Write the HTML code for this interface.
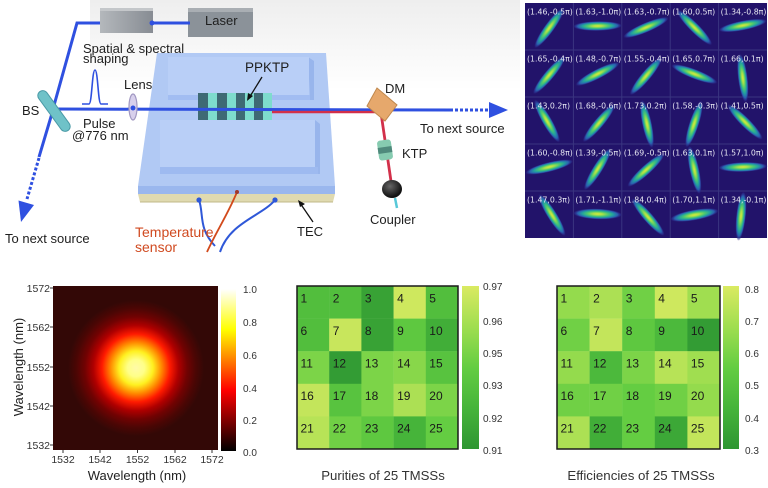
<!DOCTYPE html>
<html><head><meta charset="utf-8"><style>html,body{margin:0;padding:0;background:#fff}svg{display:block}</style></head><body>
<svg width="768" height="488" viewBox="0 0 768 488" xmlns="http://www.w3.org/2000/svg" font-family="'Liberation Sans', Arial, sans-serif">
<defs>
<radialGradient id="vir" cx="0.5" cy="0.5" r="0.5">
<stop offset="0" stop-color="#d4ea3a"/>
<stop offset="0.2" stop-color="#a6e04a"/>
<stop offset="0.42" stop-color="#4cc870"/>
<stop offset="0.62" stop-color="#22a0a0"/>
<stop offset="0.8" stop-color="#2a60b0"/>
<stop offset="0.92" stop-color="#2c3090" stop-opacity="0.6"/>
<stop offset="1" stop-color="#22136a" stop-opacity="0"/>
</radialGradient>
<radialGradient id="hotblob" gradientUnits="userSpaceOnUse" cx="136" cy="368" r="68">
<stop offset="0" stop-color="#fffaa8"/>
<stop offset="0.125" stop-color="#ffff88"/>
<stop offset="0.25" stop-color="#fff020"/>
<stop offset="0.375" stop-color="#ff8a00"/>
<stop offset="0.5" stop-color="#ff1a00"/>
<stop offset="0.625" stop-color="#b00000"/>
<stop offset="0.75" stop-color="#720202"/>
<stop offset="0.875" stop-color="#4c0604"/>
<stop offset="1" stop-color="#330806"/>
</radialGradient>
<linearGradient id="hotbar" x1="0" y1="1" x2="0" y2="0">
<stop offset="0" stop-color="#000"/>
<stop offset="0.375" stop-color="#ff0000"/>
<stop offset="0.75" stop-color="#ffff00"/>
<stop offset="1" stop-color="#ffffff"/>
</linearGradient>
<linearGradient id="grbar" x1="0" y1="1" x2="0" y2="0">
<stop offset="0" stop-color="#2e9632"/>
<stop offset="0.25" stop-color="#46b43a"/>
<stop offset="0.5" stop-color="#64cd42"/>
<stop offset="0.75" stop-color="#a0de50"/>
<stop offset="1" stop-color="#daea62"/>
</linearGradient>
<linearGradient id="gbox" x1="0" y1="0" x2="1" y2="0">
<stop offset="0" stop-color="#b4b8bc"/>
<stop offset="1" stop-color="#878c93"/>
</linearGradient>
<linearGradient id="bgtop" x1="0" y1="0" x2="0" y2="1">
<stop offset="0" stop-color="#eeeeee"/>
<stop offset="1" stop-color="#ffffff"/>
</linearGradient>
<radialGradient id="coup" cx="0.4" cy="0.35" r="0.6">
<stop offset="0" stop-color="#666"/>
<stop offset="1" stop-color="#111"/>
</radialGradient>
</defs>

<rect width="768" height="488" fill="#fff"/>
<rect x="90" y="0" width="430" height="90" fill="url(#bgtop)"/>

<!-- ============ SCHEMATIC ============ -->
<rect x="100" y="8" width="53" height="25" fill="url(#gbox)"/>
<rect x="100" y="8" width="53" height="3" fill="#c4c7ca"/>
<rect x="188" y="8" width="65" height="29" fill="#8b9299"/>
<rect x="188" y="8" width="65" height="4" fill="#a9aeb3"/>
<text x="205" y="25" font-size="13" fill="#1e1e1e">Laser</text>

<polygon points="157,53 326,53 335,186 138,186" fill="#b1c9f4"/>
<polygon points="138,186 335,186 335,194 138,194" fill="#9ab7ee"/>
<polygon points="138,194 335,194 333,202 140,202" fill="#e0dab0"/>
<line x1="140" y1="202" x2="333" y2="202" stroke="#c0b888" stroke-width="1"/>
<polygon points="308,57 314,61 314,100 310,100" fill="#98b5ec"/>
<rect x="168" y="57" width="141" height="38" fill="#b9cff7"/>
<rect x="168" y="95" width="142" height="5" fill="#a2bdf2"/>
<polygon points="315,120 320,124 320,174 315,174" fill="#98b5ec"/>
<rect x="160" y="120" width="155" height="47" fill="#b9cff7"/>
<rect x="160" y="167" width="158" height="7" fill="#9ebaf0"/>

<rect x="198" y="93" width="74" height="27" fill="#7edccd"/>
<rect x="198" y="93" width="10" height="27" fill="#3e6a74"/>
<rect x="217" y="93" width="10" height="27" fill="#3e6a74"/>
<rect x="236" y="93" width="9" height="27" fill="#3e6a74"/>
<rect x="254" y="93" width="9" height="27" fill="#3e6a74"/>

<polyline points="100,23 77,23 53,109" fill="none" stroke="#2f50e0" stroke-width="3"/>
<line x1="153" y1="23" x2="190" y2="23" stroke="#2f50e0" stroke-width="3"/>
<circle cx="152" cy="23" r="2.5" fill="#2f50e0"/>
<line x1="53" y1="109" x2="453" y2="110" stroke="#2f50e0" stroke-width="3"/>
<line x1="455" y1="110" x2="490" y2="110" stroke="#2f50e0" stroke-width="3" stroke-dasharray="3,2"/>
<polygon points="489,102 508,110 489,118" fill="#2f50e0"/>
<line x1="53" y1="110" x2="39" y2="157" stroke="#2f50e0" stroke-width="3"/>
<line x1="39" y1="158" x2="27" y2="199" stroke="#2f50e0" stroke-width="3" stroke-dasharray="3,2"/>
<polygon points="34,205 21,222 18.5,200.5" fill="#2f50e0"/>

<line x1="272" y1="112" x2="382" y2="112" stroke="#d2304a" stroke-width="2.5"/>
<line x1="273" y1="109.5" x2="453" y2="110" stroke="#2f50e0" stroke-width="2.2"/>
<line x1="381" y1="113" x2="392" y2="188" stroke="#d2304a" stroke-width="2.8"/>

<g transform="translate(54,111) rotate(54)">
<rect x="-24" y="-5" width="48" height="10" rx="5" fill="#6fc2c8" stroke="#4a9aa6" stroke-width="1"/>
</g>
<ellipse cx="133" cy="107" rx="4" ry="13" fill="#d8d0ec" stroke="#a198c2" stroke-width="1.2"/>
<circle cx="133" cy="108" r="2.5" fill="#2f50e0"/>
<path d="M82,104 L89,104 C92,104 92,70 95,70 C98,70 98,104 101,104 L108,104" fill="none" stroke="#2f50e0" stroke-width="1.6"/>
<polygon points="367,106 377,88 397,105 385,121" fill="#e6a86c" stroke="#c0884c" stroke-width="1"/>
<g transform="translate(385,150) rotate(-8)">
<rect x="-7" y="-10" width="14" height="20" rx="3" fill="#86cbb0"/>
<rect x="-7" y="-3" width="14" height="6" fill="#4f8a7c"/>
</g>
<ellipse cx="392" cy="189" rx="10" ry="9" fill="url(#coup)"/>
<line x1="395" y1="198" x2="397" y2="208" stroke="#58c8d8" stroke-width="2.5"/>

<path d="M199,200 C204,214 198,228 215,246" fill="none" stroke="#2f58d8" stroke-width="2"/>
<circle cx="199" cy="200" r="2.6" fill="#2f58d8"/>
<path d="M275,200 C262,216 230,222 220,252" fill="none" stroke="#2f58d8" stroke-width="2"/>
<circle cx="275" cy="200" r="2.6" fill="#2f58d8"/>
<path d="M237,192 C228,214 216,232 207,252" fill="none" stroke="#d24a1c" stroke-width="1.8"/>
<circle cx="237" cy="192" r="2" fill="#a03a2a"/>

<line x1="262" y1="77" x2="249" y2="98" stroke="#111" stroke-width="1.3"/>
<polygon points="247,101 248,93 253,96" fill="#111"/>
<line x1="313" y1="222" x2="300" y2="203" stroke="#111" stroke-width="1.3"/>
<polygon points="298,200 305,204 300,207" fill="#111"/>

<g font-size="13" fill="#1e1e1e">
<text x="83" y="53">Spatial &amp; spectral</text>
<text x="83" y="63">shaping</text>
<text x="22" y="115">BS</text>
<text x="124" y="89">Lens</text>
<text x="83" y="128">Pulse</text>
<text x="72" y="140">@776 nm</text>
<text x="245" y="72" font-size="13.5">PPKTP</text>
<text x="385" y="93">DM</text>
<text x="420" y="133">To next source</text>
<text x="402" y="158">KTP</text>
<text x="370" y="224">Coupler</text>
<text x="297" y="236">TEC</text>
<text x="5" y="243">To next source</text>
<text x="135" y="237" font-size="14" fill="#d04a20">Temperature</text>
<text x="135" y="252" font-size="14" fill="#d04a20">sensor</text>
</g>

<!-- ============ TOP-RIGHT GRID ============ -->
<rect x="525" y="3" width="242" height="235" fill="#22136a"/>
<g stroke="#3a3580" stroke-width="1">
<line x1="573.4" y1="3" x2="573.4" y2="238"/>
<line x1="621.8" y1="3" x2="621.8" y2="238"/>
<line x1="670.2" y1="3" x2="670.2" y2="238"/>
<line x1="718.6" y1="3" x2="718.6" y2="238"/>
<line x1="525" y1="50" x2="767" y2="50"/>
<line x1="525" y1="97" x2="767" y2="97"/>
<line x1="525" y1="144" x2="767" y2="144"/>
<line x1="525" y1="191" x2="767" y2="191"/>
</g>
<g fill="url(#vir)">
<ellipse cx="0" cy="0" rx="25" ry="5" transform="translate(549.2,28) rotate(-54)"/>
<ellipse cx="0" cy="0" rx="25" ry="5" transform="translate(597.6,26) rotate(-1)"/>
<ellipse cx="0" cy="0" rx="25" ry="5" transform="translate(646,27.5) rotate(-23)"/>
<ellipse cx="0" cy="0" rx="25" ry="5" transform="translate(694.4,27.5) rotate(45)"/>
<ellipse cx="0" cy="0" rx="25" ry="5" transform="translate(742.8,25.5) rotate(-11)"/>

<ellipse cx="0" cy="0" rx="25" ry="5" transform="translate(549.2,75) rotate(-50)"/>
<ellipse cx="0" cy="0" rx="25" ry="5" transform="translate(597.6,74) rotate(-27)"/>
<ellipse cx="0" cy="0" rx="25" ry="5" transform="translate(646,76) rotate(-50)"/>
<ellipse cx="0" cy="0" rx="25" ry="5" transform="translate(694.4,74) rotate(21)"/>
<ellipse cx="0" cy="0" rx="25" ry="5" transform="translate(742.8,78) rotate(83)"/>

<ellipse cx="0" cy="0" rx="25" ry="5" transform="translate(547,121) rotate(60)"/>
<ellipse cx="0" cy="0" rx="25" ry="5" transform="translate(599,123) rotate(-50)"/>
<ellipse cx="0" cy="0" rx="25" ry="5" transform="translate(647,124) rotate(78)"/>
<ellipse cx="0" cy="0" rx="25" ry="5" transform="translate(694,124) rotate(-72)"/>
<ellipse cx="0" cy="0" rx="25" ry="5" transform="translate(745,122) rotate(45)"/>

<ellipse cx="0" cy="0" rx="25" ry="5" transform="translate(549.2,167) rotate(-14)"/>
<ellipse cx="0" cy="0" rx="25" ry="5" transform="translate(597.6,169) rotate(-58)"/>
<ellipse cx="0" cy="0" rx="25" ry="5" transform="translate(646,170) rotate(-42)"/>
<ellipse cx="0" cy="0" rx="25" ry="5" transform="translate(694.4,170) rotate(78)"/>
<ellipse cx="0" cy="0" rx="25" ry="5" transform="translate(742.8,167) rotate(-2)"/>

<ellipse cx="0" cy="0" rx="25" ry="5" transform="translate(552,215) rotate(58)"/>
<ellipse cx="0" cy="0" rx="25" ry="5.5" transform="translate(597.6,214) rotate(2)"/>
<ellipse cx="0" cy="0" rx="25" ry="5" transform="translate(648,217) rotate(49)"/>
<ellipse cx="0" cy="0" rx="25" ry="5.5" transform="translate(694.4,215) rotate(-10)"/>
<ellipse cx="0" cy="0" rx="25" ry="5" transform="translate(741,216) rotate(-84)"/>
</g>
<g font-family="'DejaVu Sans', sans-serif" font-size="7.8" fill="#e6e6f2">
<text x="527" y="14.5">(1.46,-0.5π)</text>
<text x="575.4" y="14.5">(1.63,-1.0π)</text>
<text x="623.8" y="14.5">(1.63,-0.7π)</text>
<text x="672.2" y="14.5">(1.60,0.5π)</text>
<text x="720.6" y="14.5">(1.34,-0.8π)</text>
<text x="527" y="61.5">(1.65,-0.4π)</text>
<text x="575.4" y="61.5">(1.48,-0.7π)</text>
<text x="623.8" y="61.5">(1.55,-0.4π)</text>
<text x="672.2" y="61.5">(1.65,0.7π)</text>
<text x="720.6" y="61.5">(1.66,0.1π)</text>
<text x="527" y="108.5">(1.43,0.2π)</text>
<text x="575.4" y="108.5">(1.68,-0.6π)</text>
<text x="623.8" y="108.5">(1.73,0.2π)</text>
<text x="672.2" y="108.5">(1.58,-0.3π)</text>
<text x="720.6" y="108.5">(1.41,0.5π)</text>
<text x="527" y="155.5">(1.60,-0.8π)</text>
<text x="575.4" y="155.5">(1.39,-0.5π)</text>
<text x="623.8" y="155.5">(1.69,-0.5π)</text>
<text x="672.2" y="155.5">(1.63,0.1π)</text>
<text x="720.6" y="155.5">(1.57,1.0π)</text>
<text x="527" y="202.5">(1.47,0.3π)</text>
<text x="575.4" y="202.5">(1.71,-1.1π)</text>
<text x="623.8" y="202.5">(1.84,0.4π)</text>
<text x="672.2" y="202.5">(1.70,1.1π)</text>
<text x="720.6" y="202.5">(1.34,-0.1π)</text>
</g>

<!-- ============ HEATMAP ============ -->
<rect x="53" y="286" width="165" height="164" fill="#330806"/>
<rect x="53" y="286" width="165" height="164" fill="url(#hotblob)"/>
<rect x="221" y="289" width="15" height="162" fill="url(#hotbar)"/>
<g stroke="#333" stroke-width="1">
<line x1="50" y1="288" x2="53" y2="288"/>
<line x1="50" y1="327" x2="53" y2="327"/>
<line x1="50" y1="367" x2="53" y2="367"/>
<line x1="50" y1="406" x2="53" y2="406"/>
<line x1="50" y1="445" x2="53" y2="445"/>
<line x1="63" y1="450" x2="63" y2="453"/>
<line x1="100" y1="450" x2="100" y2="453"/>
<line x1="137.5" y1="450" x2="137.5" y2="453"/>
<line x1="175" y1="450" x2="175" y2="453"/>
<line x1="212" y1="450" x2="212" y2="453"/>
</g>
<g font-size="10.5" fill="#333">
<g text-anchor="end">
<text x="50" y="292">1572</text>
<text x="50" y="331">1562</text>
<text x="50" y="371">1552</text>
<text x="50" y="410">1542</text>
<text x="50" y="449">1532</text>
</g>
<g text-anchor="middle">
<text x="63" y="463">1532</text>
<text x="100" y="463">1542</text>
<text x="137.5" y="463">1552</text>
<text x="175" y="463">1562</text>
<text x="212" y="463">1572</text>
</g>
</g>
<g font-size="10" fill="#333">
<text x="243" y="293">1.0</text>
<text x="243" y="326">0.8</text>
<text x="243" y="359">0.6</text>
<text x="243" y="392">0.4</text>
<text x="243" y="424">0.2</text>
<text x="243" y="456">0.0</text>
</g>
<text x="137" y="480" font-size="13" fill="#222" text-anchor="middle">Wavelength (nm)</text>
<text transform="translate(23,367) rotate(-90)" font-size="13" fill="#222" text-anchor="middle">Wavelength (nm)</text>

<!-- ============ PURITIES ============ -->
<g>
<rect x="297" y="286" width="32.4" height="32.8" fill="#52be3d"/>
<rect x="329.2" y="286" width="32.4" height="32.8" fill="#52be3d"/>
<rect x="361.4" y="286" width="32.4" height="32.8" fill="#38a235"/>
<rect x="393.6" y="286" width="32.4" height="32.8" fill="#cee85e"/>
<rect x="425.8" y="286" width="32.2" height="32.8" fill="#52be3d"/>
<rect x="297" y="318.6" width="32.4" height="32.8" fill="#52be3d"/>
<rect x="329.2" y="318.6" width="32.4" height="32.8" fill="#c8e65c"/>
<rect x="361.4" y="318.6" width="32.4" height="32.8" fill="#38a235"/>
<rect x="393.6" y="318.6" width="32.4" height="32.8" fill="#5ec840"/>
<rect x="425.8" y="318.6" width="32.2" height="32.8" fill="#41ae38"/>
<rect x="297" y="351.2" width="32.4" height="32.8" fill="#7cd448"/>
<rect x="329.2" y="351.2" width="32.4" height="32.8" fill="#339c34"/>
<rect x="361.4" y="351.2" width="32.4" height="32.8" fill="#7cd448"/>
<rect x="393.6" y="351.2" width="32.4" height="32.8" fill="#88d74a"/>
<rect x="425.8" y="351.2" width="32.2" height="32.8" fill="#58c33f"/>
<rect x="297" y="383.8" width="32.4" height="32.8" fill="#c3e55b"/>
<rect x="329.2" y="383.8" width="32.4" height="32.8" fill="#58c33f"/>
<rect x="361.4" y="383.8" width="32.4" height="32.8" fill="#7cd448"/>
<rect x="393.6" y="383.8" width="32.4" height="32.8" fill="#ace054"/>
<rect x="425.8" y="383.8" width="32.2" height="32.8" fill="#7cd448"/>
<rect x="297" y="416.4" width="32.4" height="32.6" fill="#b7e357"/>
<rect x="329.2" y="416.4" width="32.4" height="32.6" fill="#70d045"/>
<rect x="361.4" y="416.4" width="32.4" height="32.6" fill="#5ec840"/>
<rect x="393.6" y="416.4" width="32.4" height="32.6" fill="#46b43a"/>
<rect x="425.8" y="416.4" width="32.2" height="32.6" fill="#64cd42"/>
</g>
<rect x="297" y="286" width="161" height="163" fill="none" stroke="#1a1a1a" stroke-width="1.5"/>
<g font-size="12" fill="#1a1a1a">
<text x="300.5" y="302.5">1</text><text x="332.7" y="302.5">2</text><text x="364.9" y="302.5">3</text><text x="397.1" y="302.5">4</text><text x="429.3" y="302.5">5</text>
<text x="300.5" y="335">6</text><text x="332.7" y="335">7</text><text x="364.9" y="335">8</text><text x="397.1" y="335">9</text><text x="429.3" y="335">10</text>
<text x="300.5" y="367.5">11</text><text x="332.7" y="367.5">12</text><text x="364.9" y="367.5">13</text><text x="397.1" y="367.5">14</text><text x="429.3" y="367.5">15</text>
<text x="300.5" y="400">16</text><text x="332.7" y="400">17</text><text x="364.9" y="400">18</text><text x="397.1" y="400">19</text><text x="429.3" y="400">20</text>
<text x="300.5" y="432.5">21</text><text x="332.7" y="432.5">22</text><text x="364.9" y="432.5">23</text><text x="397.1" y="432.5">24</text><text x="429.3" y="432.5">25</text>
</g>
<rect x="462" y="286" width="17" height="163" fill="url(#grbar)"/>
<g font-size="10" fill="#333">
<text x="483" y="290">0.97</text>
<text x="483" y="325">0.96</text>
<text x="483" y="357">0.95</text>
<text x="483" y="389">0.93</text>
<text x="483" y="422">0.92</text>
<text x="483" y="454">0.91</text>
</g>
<text x="383" y="480" font-size="13.2" fill="#333" text-anchor="middle">Purities of 25 TMSSs</text>

<!-- ============ EFFICIENCIES ============ -->
<g>
<rect x="557" y="286" width="32.8" height="32.8" fill="#94db4d"/>
<rect x="589.6" y="286" width="32.8" height="32.8" fill="#ace054"/>
<rect x="622.2" y="286" width="32.8" height="32.8" fill="#70d045"/>
<rect x="654.8" y="286" width="32.8" height="32.8" fill="#cee85e"/>
<rect x="687.4" y="286" width="32.6" height="32.8" fill="#a0de50"/>
<rect x="557" y="318.6" width="32.8" height="32.8" fill="#70d045"/>
<rect x="589.6" y="318.6" width="32.8" height="32.8" fill="#c3e55b"/>
<rect x="622.2" y="318.6" width="32.8" height="32.8" fill="#5ec840"/>
<rect x="654.8" y="318.6" width="32.8" height="32.8" fill="#4cb93c"/>
<rect x="687.4" y="318.6" width="32.6" height="32.8" fill="#339c34"/>
<rect x="557" y="351.2" width="32.8" height="32.8" fill="#94db4d"/>
<rect x="589.6" y="351.2" width="32.8" height="32.8" fill="#4cb93c"/>
<rect x="622.2" y="351.2" width="32.8" height="32.8" fill="#7cd448"/>
<rect x="654.8" y="351.2" width="32.8" height="32.8" fill="#b7e357"/>
<rect x="687.4" y="351.2" width="32.6" height="32.8" fill="#a0de50"/>
<rect x="557" y="383.8" width="32.8" height="32.8" fill="#70d045"/>
<rect x="589.6" y="383.8" width="32.8" height="32.8" fill="#70d045"/>
<rect x="622.2" y="383.8" width="32.8" height="32.8" fill="#64cd42"/>
<rect x="654.8" y="383.8" width="32.8" height="32.8" fill="#70d045"/>
<rect x="687.4" y="383.8" width="32.6" height="32.8" fill="#94db4d"/>
<rect x="557" y="416.4" width="32.8" height="32.6" fill="#ace054"/>
<rect x="589.6" y="416.4" width="32.8" height="32.6" fill="#41ae38"/>
<rect x="622.2" y="416.4" width="32.8" height="32.6" fill="#64cd42"/>
<rect x="654.8" y="416.4" width="32.8" height="32.6" fill="#3ca837"/>
<rect x="687.4" y="416.4" width="32.6" height="32.6" fill="#c3e55b"/>
</g>
<rect x="557" y="286" width="163" height="163" fill="none" stroke="#1a1a1a" stroke-width="1.5"/>
<g font-size="12" fill="#1a1a1a">
<text x="560.5" y="302.5">1</text><text x="593.1" y="302.5">2</text><text x="625.7" y="302.5">3</text><text x="658.3" y="302.5">4</text><text x="690.9" y="302.5">5</text>
<text x="560.5" y="335">6</text><text x="593.1" y="335">7</text><text x="625.7" y="335">8</text><text x="658.3" y="335">9</text><text x="690.9" y="335">10</text>
<text x="560.5" y="367.5">11</text><text x="593.1" y="367.5">12</text><text x="625.7" y="367.5">13</text><text x="658.3" y="367.5">14</text><text x="690.9" y="367.5">15</text>
<text x="560.5" y="400">16</text><text x="593.1" y="400">17</text><text x="625.7" y="400">18</text><text x="658.3" y="400">19</text><text x="690.9" y="400">20</text>
<text x="560.5" y="432.5">21</text><text x="593.1" y="432.5">22</text><text x="625.7" y="432.5">23</text><text x="658.3" y="432.5">24</text><text x="690.9" y="432.5">25</text>
</g>
<rect x="723" y="286" width="16" height="163" fill="url(#grbar)"/>
<g font-size="10" fill="#333">
<text x="745" y="293">0.8</text>
<text x="745" y="325">0.7</text>
<text x="745" y="357">0.6</text>
<text x="745" y="389">0.5</text>
<text x="745" y="422">0.4</text>
<text x="745" y="454">0.3</text>
</g>
<text x="641" y="480" font-size="13.3" fill="#333" text-anchor="middle">Efficiencies of 25 TMSSs</text>
</svg>
</body></html>
